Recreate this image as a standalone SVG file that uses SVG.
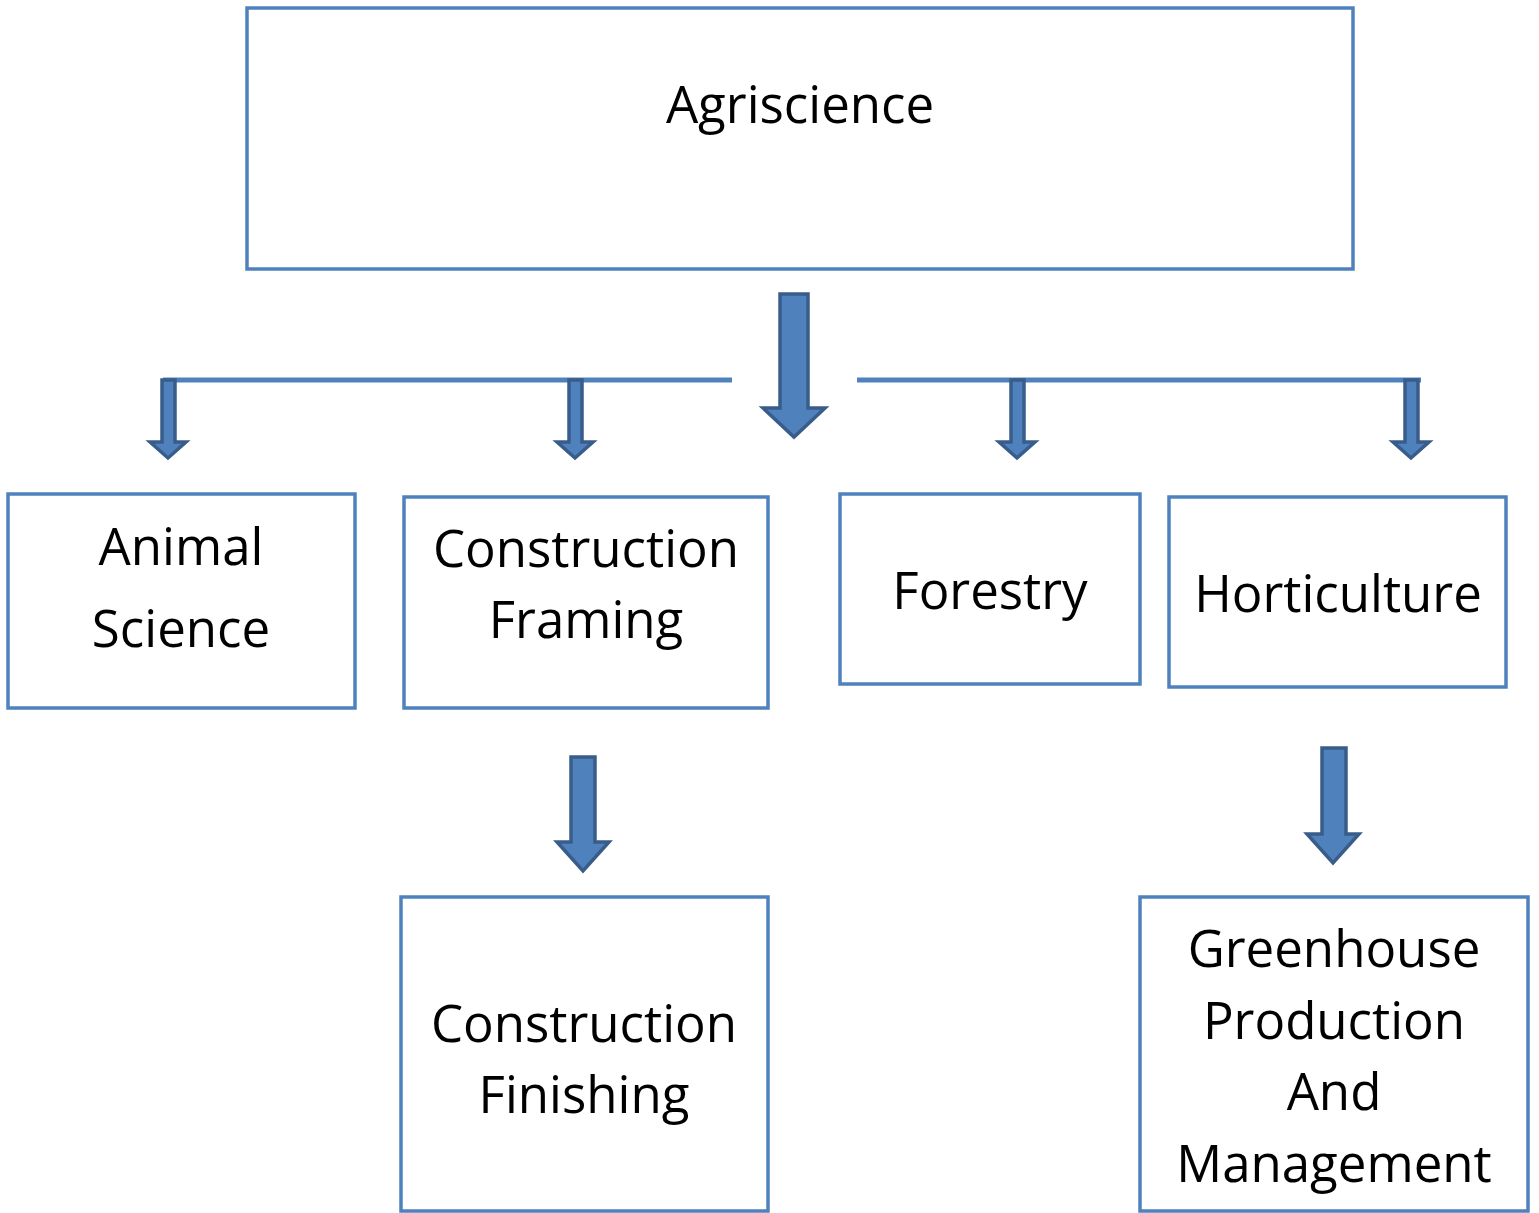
<svg xmlns="http://www.w3.org/2000/svg" width="1539" height="1213" viewBox="0 0 1539 1213">
<style>
.box{fill:#fff;stroke:#4f81bd;stroke-width:3.5}
.t{font-family:"Open Sans","Noto Sans",sans-serif;font-size:51px;fill:#000;text-anchor:middle}
.arr{fill:#4f81bd;stroke:#385d8a;stroke-width:3.5;stroke-linejoin:miter}
.ln{stroke:#4f81bd;stroke-width:5;fill:none}
</style>
<rect width="1539" height="1213" fill="#fff"/>
<g id="connectors">
<line class="ln" x1="163" y1="380" x2="732" y2="380"/>
<line class="ln" x1="857" y1="380" x2="1421" y2="380"/>
<path class="arr" d="M780,294 L808,294 L808,408 L825,408 L794,437 L763,408 L780,408 Z"/>
<path class="arr" d="M162,380 L175,380 L175,442 L186,442 L168,458 L150,442 L162,442 Z"/>
<path class="arr" d="M569,380 L582,380 L582,442 L593,442 L575,458 L557,442 L569,442 Z"/>
<path class="arr" d="M1011,380 L1024,380 L1024,442 L1035,442 L1017,458 L999,442 L1011,442 Z"/>
<path class="arr" d="M1405,380 L1418,380 L1418,442 L1429,442 L1411,458 L1393,442 L1405,442 Z"/>
<path class="arr" d="M571,757 L595,757 L595,842 L609,842 L583,871 L557,842 L571,842 Z"/>
<path class="arr" d="M1322,748 L1346,748 L1346,834 L1359,834 L1333,863 L1307,834 L1322,834 Z"/>
</g>
<g id="agriscience">
<rect class="box" x="247" y="8" width="1106" height="261"/>
<text class="t" x="800" y="123">Agriscience</text>
</g>
<g id="animal-science">
<rect class="box" x="8" y="494" width="347" height="214"/>
<text class="t" x="181" y="565">Animal</text>
<text class="t" x="181" y="647">Science</text>
</g>
<g id="construction-framing">
<rect class="box" x="404" y="497" width="364" height="211"/>
<text class="t" x="586" y="567">Construction</text>
<text class="t" x="586" y="638">Framing</text>
</g>
<g id="forestry">
<rect class="box" x="840" y="494" width="300" height="190"/>
<text class="t" x="990" y="609">Forestry</text>
</g>
<g id="horticulture">
<rect class="box" x="1169" y="497" width="337" height="190"/>
<text class="t" x="1338" y="612">Horticulture</text>
</g>
<g id="construction-finishing">
<rect class="box" x="401" y="897" width="367" height="314"/>
<text class="t" x="584" y="1042">Construction</text>
<text class="t" x="584" y="1113">Finishing</text>
</g>
<g id="greenhouse">
<rect class="box" x="1140" y="897" width="388" height="314"/>
<text class="t" x="1334" y="967">Greenhouse</text>
<text class="t" x="1334" y="1039">Production</text>
<text class="t" x="1334" y="1110">And</text>
<text class="t" x="1334" y="1182">Management</text>
</g>
</svg>
